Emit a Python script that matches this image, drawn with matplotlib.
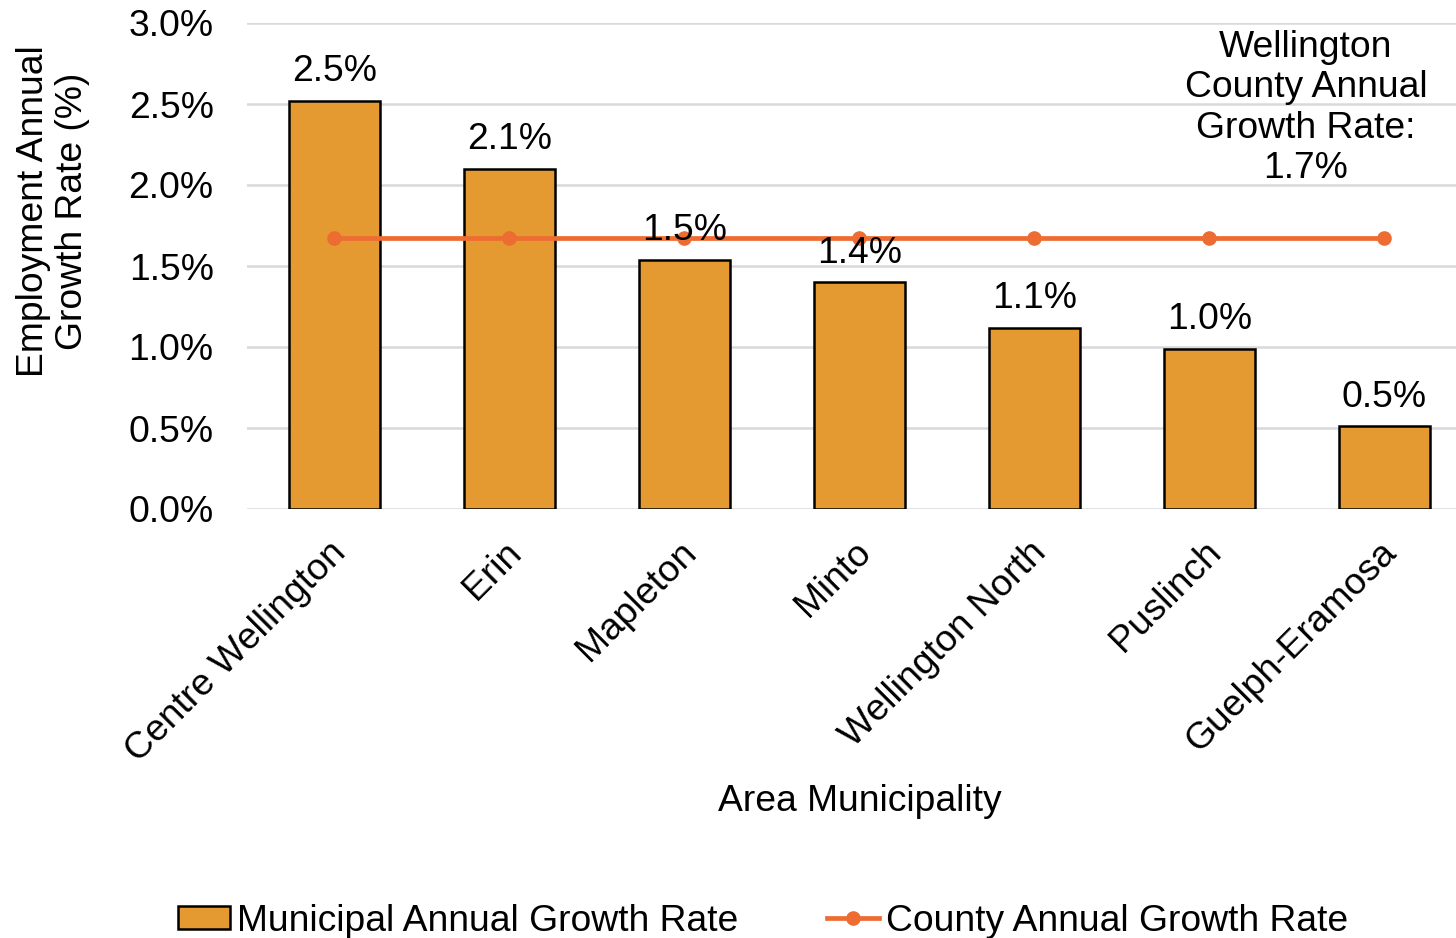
import matplotlib
matplotlib.use("Agg")
import matplotlib.pyplot as plt
from matplotlib.ticker import FuncFormatter

plt.rcParams['font.family'] = ['Liberation Sans', 'DejaVu Sans']

municipalities = ["Centre Wellington", "Erin", "Mapleton", "Minto",
                  "Wellington North", "Puslinch", "Guelph-Eramosa"]
municipal_rate = [2.52, 2.10, 1.54, 1.40, 1.12, 0.99, 0.51]
bar_labels = ["2.5%", "2.1%", "1.5%", "1.4%", "1.1%", "1.0%", "0.5%"]
county_rate = [1.67] * 7
yticks = [0.0, 0.5, 1.0, 1.5, 2.0, 2.5, 3.0]

W, H = 1456, 938
fig = plt.figure(figsize=(W / 100, H / 100), dpi=100)
ax = fig.add_axes([247 / W, 1 - 509 / H, (1456 - 247) / W, (509 - 23) / H])

x = list(range(len(municipalities)))
bar_color = "#E49A30"
line_color = "#ED6C31"
fs = 26.8

bars = ax.bar(x, municipal_rate, width=0.52, color=bar_color, edgecolor="black",
              linewidth=1.8, zorder=2, label="Municipal Annual Growth Rate")
line, = ax.plot(x, county_rate, color=line_color, linewidth=3.4, marker="o",
                markersize=9.5, zorder=3, label="County Annual Growth Rate")

for xi, v, lab in zip(x, municipal_rate, bar_labels):
    ax.annotate(lab, (xi, v), xytext=(0, 21), textcoords="offset points",
                ha="center", va="center", fontsize=fs, zorder=4)

ax.set_xlim(-0.5, 6.41)
ax.set_ylim(0, 3.0)
ax.set_yticks(yticks)
ax.yaxis.set_major_formatter(FuncFormatter(lambda v, p: f"{v:.1f}%"))
ax.tick_params(axis="y", length=0, labelsize=fs, pad=24)
ax.tick_params(axis="x", length=0)
ax.set_xticks(x)
ax.set_xticklabels(municipalities, rotation=45, ha="right", va="top",
                   rotation_mode="anchor", fontsize=fs)
for lbl in ax.get_xticklabels():
    lbl.set_transform(lbl.get_transform() + matplotlib.transforms.ScaledTranslation(-6 / 100, -21 / 100, fig.dpi_scale_trans))

ax.grid(axis="y", color="#D9D9D9", linewidth=1.8, zorder=0)
ax.set_axisbelow(True)
for s in ax.spines.values():
    s.set_visible(False)

ax.text(1306 / W, 1 - 108 / H, "Wellington\nCounty Annual\nGrowth Rate:\n1.7%",
        transform=fig.transFigure, ha="center", va="center", fontsize=fs,
        linespacing=1.2)

fig.text(53 / W, 1 - 211 / H, "Employment Annual\nGrowth Rate (%)", rotation=90,
         ha="center", va="center", fontsize=fs, linespacing=1.15)
fig.text(860 / W, 1 - 801 / H, "Area Municipality", ha="center", va="center",
         fontsize=fs)

fig.legend(handles=[bars, line], loc="center", bbox_to_anchor=(763 / W, 1 - 921 / H),
           ncol=2, frameon=False, fontsize=fs, handlelength=1.4,
           handletextpad=0.17, columnspacing=2.4, handleheight=0.6,
           borderaxespad=0, borderpad=0)

fig.savefig("out.png", dpi=100)
